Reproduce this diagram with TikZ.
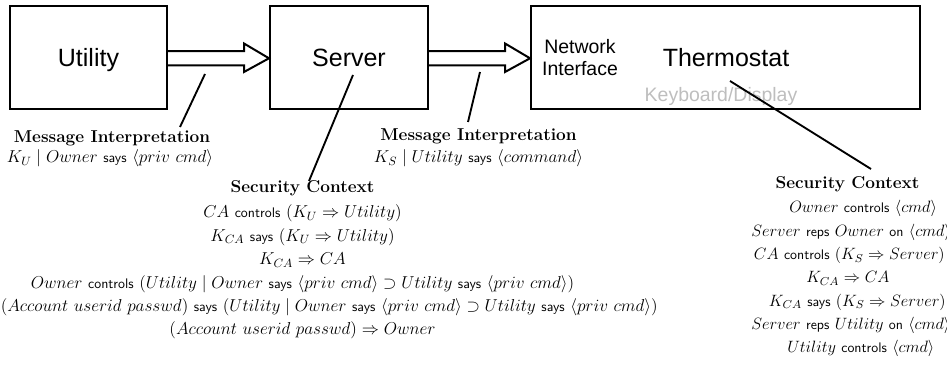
\RequirePackage{fix-cm}
\documentclass[tikz,border=0pt]{standalone}
\usepackage{fontspec}
\newfontfamily\labelfont{Liberation Sans}
\usetikzlibrary{calc}
\definecolor{kbgray}{RGB}{190,190,190}

% logical operators are set in a smaller sans serif
\newcommand\logicop[1]{\textsf{\fontsize{10.4pt}{12pt}\selectfont #1}}

% block arrow from the east side of one box to the west side of the next
\newcommand\flowarrow[2]{%
  \draw[flow] ($(#1.east)+(0,-6.3)$) -- ($(#2.west)+(-25,-6.3)$)
    -- ($(#2.west)+(-25,-14)$) -- ($(#2.west)+(0,0.8)$)
    -- ($(#2.west)+(-25,14.5)$) -- ($(#2.west)+(-25,8)$)
    -- ($(#1.east)+(0,8)$);}

\begin{document}
\begin{tikzpicture}[x=0.75pt,y=-0.75pt,
  box/.style={draw, line width=1.5pt, rectangle, inner sep=0pt,
    font=\labelfont\fontsize{18.75pt}{22pt}\selectfont, text depth=0pt},
  flow/.style={line width=1.5pt, line join=miter},
  pointer/.style={line width=1.4pt},
  biglabel/.style={anchor=base, inner sep=0pt,
    font=\labelfont\fontsize{18.75pt}{22pt}\selectfont},
  smalllabel/.style={inner sep=0pt,
    font=\labelfont\fontsize{14.6pt}{16.5pt}\selectfont},
  heading/.style={anchor=base, inner sep=0pt,
    font=\fontsize{12.9pt}{15pt}\selectfont\bfseries},
  formula/.style={anchor=base, inner sep=0pt,
    font=\fontsize{12.9pt}{15pt}\selectfont},
  rformula/.style={formula, anchor=base west,
    font=\fontsize{12.3pt}{15pt}\selectfont}]
\useasboundingbox (0,0) rectangle (947,373);

% the three components
\node[box, minimum width=117.75pt, minimum height=77.25pt] (utility) at (88.5,57.5) {Utility};
\node[box, minimum width=118.5pt, minimum height=77.25pt] (server) at (349,57.5) {Server};
\node[box, minimum width=291.4pt, minimum height=77.25pt] (thermobox) at (725.3,57.5) {};

\node[smalllabel, align=center] (netif) at (580,58) {Network\\Interface};
\node[biglabel] (thermo) at (726,67) {Thermostat};
\node[smalllabel, anchor=base, text=kbgray] (kbd) at (721,102) {Keyboard/Display};

% message flow
\flowarrow{utility}{server}
\flowarrow{server}{thermobox}

% message interpretation at each hop
\node[heading] (mi1) at (112,143) {Message Interpretation};
\node[formula] (mi1f) at (110,163) {$K_U \mid Owner$ \logicop{says} $\langle priv~cmd\rangle$};

\node[heading] (mi2) at (478.5,141) {Message Interpretation};
\node[formula] (mi2f) at (478.5,163) {$K_S \mid Utility$ \logicop{says} $\langle command\rangle$};

% security context of the server (the overlong line starts at the left margin)
\node[heading] (sc1) at (302.5,193) {Security Context};
\node[formula] (sc1f0) at (302.5,218) {$CA$ \logicop{controls} $(K_U \Rightarrow Utility)$};
\node[formula] (sc1f1) at (302.5,241.4) {$K_{CA}$ \logicop{says} $(K_U \Rightarrow Utility)$};
\node[formula] (sc1f2) at (302.5,264.8) {$K_{CA} \Rightarrow CA$};
\node[formula] (sc1f3) at (302.5,288.2) {$Owner$ \logicop{controls} $(Utility \mid Owner$ \logicop{says} $\langle priv~cmd\rangle \supset Utility$ \logicop{says} $\langle priv~cmd\rangle)$};
\node[formula, anchor=base west] (sc1f4) at (0.5,311.6) {$(Account~userid~passwd)$ \logicop{says} $(Utility \mid Owner$ \logicop{says} $\langle priv~cmd\rangle \supset Utility$ \logicop{says} $\langle priv~cmd\rangle)$};
\node[formula] (sc1f5) at (302.5,335) {$(Account~userid~passwd) \Rightarrow Owner$};

% security context of the thermostat (runs to the right edge)
\node[heading] (sc2) at (847.5,189) {Security Context};
\node[rformula] (sc2f0) at (789,213) {$Owner$ \logicop{controls} $\langle cmd\rangle$};
\node[rformula] (sc2f1) at (751,236.3) {$Server$ \logicop{reps} $Owner$ \logicop{on} $\langle cmd\rangle$};
\node[rformula, anchor=base east] (sc2f2) at (945,259.6) {$CA$ \logicop{controls} $(K_S \Rightarrow Server)$};
\node[rformula] (sc2f3) at (806,282.9) {$K_{CA} \Rightarrow CA$};
\node[rformula, anchor=base east] (sc2f4) at (946,306.2) {$K_{CA}$ \logicop{says} $(K_S \Rightarrow Server)$};
\node[rformula] (sc2f5) at (751,329.5) {$Server$ \logicop{reps} $Utility$ \logicop{on} $\langle cmd\rangle$};
\node[rformula] (sc2f6) at (787,352.8) {$Utility$ \logicop{controls} $\langle cmd\rangle$};

% pointers from the diagram to the annotations
\coordinate (p1a) at (205,74);   \coordinate (p1b) at (180,127);
\coordinate (p2a) at (353,75);   \coordinate (p2b) at (309,181);
\coordinate (p3a) at (480,72);   \coordinate (p3b) at (468,122);
\coordinate (p4a) at (730,81);   \coordinate (p4b) at (871,169);
\draw[pointer] (p1a) -- (p1b);
\draw[pointer] (p2a) -- (p2b);
\draw[pointer] (p3a) -- (p3b);
\draw[pointer] (p4a) -- (p4b);
\end{tikzpicture}
\end{document}
